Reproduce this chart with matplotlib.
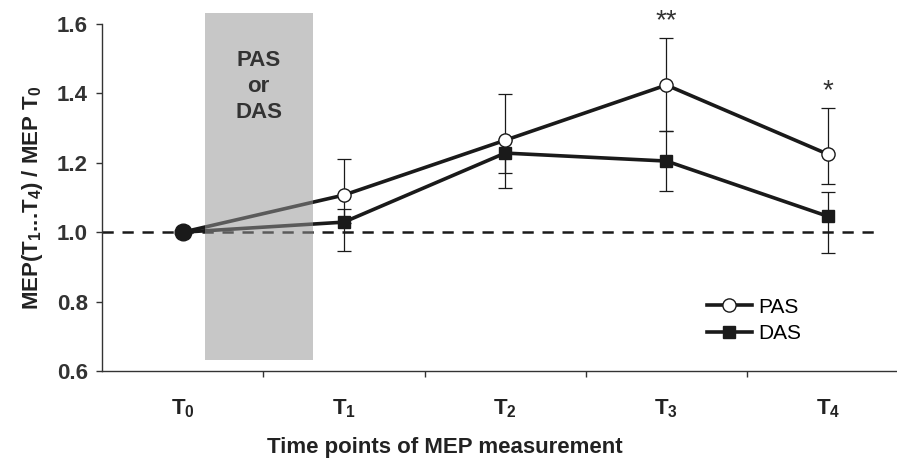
import numpy as np
import matplotlib
matplotlib.use("Agg")
import matplotlib.pyplot as plt
from matplotlib.patches import Rectangle

plt.rcParams['font.family'] = ['Liberation Sans', 'DejaVu Sans']
plt.rcParams['mathtext.fontset'] = 'custom'
plt.rcParams['mathtext.rm'] = 'Liberation Sans:bold'
plt.rcParams['mathtext.it'] = 'Liberation Sans:bold'
plt.rcParams['mathtext.bf'] = 'Liberation Sans:bold'

# dane
czasy = ['T$_0$', 'T$_1$', 'T$_2$', 'T$_3$', 'T$_4$']
pas = [1.0, 1.107, 1.265, 1.424, 1.225]
das = [1.0, 1.029, 1.228, 1.205, 1.046]
pas_dol = [0.0, 0.08, 0.095, 0.133, 0.085]
pas_gora = [0.0, 0.103, 0.133, 0.135, 0.132]
das_dol = [0.0, 0.084, 0.10, 0.087, 0.106]
das_gora = [0.0, 0.037, 0.037, 0.086, 0.07]
gwiazdki = ['', '', '', '**', '*']

ciemny = '#1a1a1a'
x = np.arange(len(czasy))

fig = plt.figure(figsize=(8.97, 4.61), dpi=100)
ax = fig.add_axes([0.1137, 0.1952, 0.8863, 0.7528])

# linia odniesienia 1.0
ax.plot([-0.5, 4.29], [1.0, 1.0], color=ciemny, lw=1.8, ls=(0, (4.5, 3.5)), zorder=1)

# serie z bledami
ax.errorbar(x[1:], das[1:], yerr=[das_dol[1:], das_gora[1:]], fmt='none',
            ecolor=ciemny, elinewidth=0.9, capsize=5, capthick=0.9, zorder=2)
ax.errorbar(x[1:], pas[1:], yerr=[pas_dol[1:], pas_gora[1:]], fmt='none',
            ecolor=ciemny, elinewidth=0.9, capsize=5, capthick=0.9, zorder=2)
ax.plot(x, das, color=ciemny, lw=2.6, marker='s', ms=8.5, mfc=ciemny,
        mec=ciemny, label='DAS', zorder=3)
ax.plot(x, pas, color=ciemny, lw=2.6, marker='o', ms=9.5, mfc='white',
        mec=ciemny, mew=1.0, label='PAS', zorder=4)
ax.plot(x[0], pas[0], marker='o', ms=12, color=ciemny, zorder=5)

# okno stymulacji
ax.add_patch(Rectangle((0.137, 0.631), 0.67, 1.0, facecolor=(0.59, 0.59, 0.59),
                       alpha=0.53, edgecolor='none', zorder=6, clip_on=False))
ax.text(0.472, 1.525, 'PAS\nor\nDAS', ha='center', va='top', fontsize=16,
        fontweight='bold', color='#333333', linespacing=1.3, zorder=7)

for xi, p, g, s in zip(x, pas, pas_gora, gwiazdki):
    if s:
        ax.text(xi, p + g + 0.012, s, ha='center', va='bottom', fontsize=20,
                color='#333333', clip_on=False)

ax.set_xlim(-0.5, 4.43)
ax.set_ylim(0.6, 1.6)
ax.set_yticks([0.6, 0.8, 1.0, 1.2, 1.4, 1.6])
ax.set_yticklabels(['0.6', '0.8', '1.0', '1.2', '1.4', '1.6'])
ax.set_xticks([0.5, 1.5, 2.5, 3.5])
ax.set_xticklabels([])
ax.set_xticks(x, minor=True)
ax.set_xticklabels(czasy, minor=True, fontweight='bold')
ax.tick_params(axis='x', which='minor', length=0, pad=19, labelsize=16, labelcolor='#222222')
ax.tick_params(axis='x', which='major', length=4, width=1, color='#333333')
ax.tick_params(axis='y', length=4, width=1, color='#333333', labelsize=16, pad=6, labelcolor='#333333')
for lab in ax.get_yticklabels():
    lab.set_fontweight('bold')

for side in ['top', 'right']:
    ax.spines[side].set_visible(False)
for side in ['left', 'bottom']:
    ax.spines[side].set_color('#333333')
    ax.spines[side].set_linewidth(1.0)

ax.set_ylabel('MEP(T$_{1}$...T$_{4}$) / MEP T$_{0}$', fontsize=16,
              fontweight='bold', color='#222222', labelpad=9)
fig.text(445 / 897, 1 - 447 / 461, 'Time points of MEP measurement', fontsize=16,
         fontweight='bold', color='#222222', ha='center', va='center')

uchwyty, etykiety = ax.get_legend_handles_labels()
ax.legend(uchwyty[::-1], etykiety[::-1], loc='upper left', bbox_to_anchor=(0.75, 0.235),
          frameon=False, fontsize=15, handlelength=2.2, handletextpad=0.3,
          labelspacing=0.35, borderaxespad=0)

fig.savefig('out.png', dpi=100)
